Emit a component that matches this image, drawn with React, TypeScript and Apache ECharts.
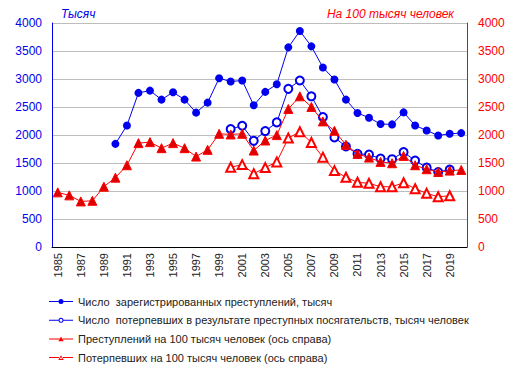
import React, { useEffect, useRef } from "react";
import * as echarts from "echarts";

const years: string[] = [];
for (let y = 1985; y <= 2020; y++) years.push(String(y));

// Число зарегистрированных преступлений, тысяч (1985–2020)
const crimes: (number | null)[] = [
  null, null, null, null, null,
  1842, 2171, 2752, 2793, 2632, 2763, 2632, 2399, 2578, 3014,
  2955, 2973, 2530, 2770, 2906, 3565, 3857, 3583, 3206, 2990,
  2632, 2393, 2309, 2196, 2189, 2404, 2171, 2081, 1991, 2022, 2034,
];

// Число потерпевших, тысяч человек
const victims: (number | null)[] = [
  null, null, null, null, null, null, null, null, null, null,
  null, null, null, null, null,
  2106, 2165, 1896, 2070, 2225, 2824, 2973, 2691, 2321, 1956,
  1794, 1663, 1650, 1579, 1568, 1694, 1543, 1417, 1340, 1381, null,
];

// Преступлений на 100 тысяч человек (ось справа)
const crimesRate: (number | null)[] = [
  976, 922, 814, 825, 1077, 1238, 1460, 1855, 1873, 1765,
  1855, 1765, 1615, 1735, 2022, 2010, 2022, 1722, 1902, 1998,
  2465, 2691, 2501, 2243, 2075, 1825, 1663, 1597, 1520, 1496,
  1627, 1460, 1389, 1340, 1364, 1376,
];

// Потерпевших на 100 тысяч человек (ось справа)
const victimsRate: (number | null)[] = [
  null, null, null, null, null, null, null, null, null, null,
  null, null, null, null, null,
  1424, 1471, 1310, 1418, 1520, 1945, 2058, 1866, 1604, 1364,
  1245, 1155, 1137, 1076, 1076, 1148, 1041, 958, 897, 915, null,
];

const seriesNames = [
  "Число  зарегистрированных преступлений, тысяч",
  "Число  потерпевших в результате преступных посягательств, тысяч человек",
  "Преступлений на 100 тысяч человек (ось справа)",
  "Потерпевших на 100 тысяч человек (ось справа)",
];

const FONT = 'Arial, "Liberation Sans", sans-serif';
const BLUE = "#0000EE";
const RED = "#FF0000";

// legend icons: line + small marker (24 x 6 box)
const ICON_DOT =
  "path://M0,2.5h9.6v1h-9.6z M14.4,2.5h9.6v1h-9.6z M9.5,3a2.5,2.5 0 1,0 5,0a2.5,2.5 0 1,0 -5,0z M0,0.5h0.01v0.01h-0.01z M0,5.5h0.01v0.01h-0.01z";
const ICON_RING =
  "path://M0,2.5h9.5v1h-9.5z M14.5,2.5h9.5v1h-9.5z M9.5,3a2.5,2.5 0 1,0 5,0a2.5,2.5 0 1,0 -5,0z M10.5,3a1.5,1.5 0 1,1 3,0a1.5,1.5 0 1,1 -3,0z M0,0.5h0.01v0.01h-0.01z M0,5.5h0.01v0.01h-0.01z";
const ICON_TRI =
  "path://M0,2.5h10.3v1h-10.3z M13.7,2.5h10.3v1h-10.3z M9.3,5.3L12,0.7L14.7,5.3z";
const ICON_TRI_EMPTY =
  "path://M0,2.5h10v1h-10z M14,2.5h10v1h-10z M9.3,5.3L12,0.7L14.7,5.3z M10.9,4.4L13.1,4.4L12,2.5z";

const legendItemStyle = (color: string) => ({
  color,
  borderWidth: 0,
  borderColor: "transparent",
});

export default function App() {
  const ref = useRef<HTMLDivElement>(null);
  useEffect(() => {
    if (!ref.current) return;
    const chart = echarts.init(ref.current, undefined, { renderer: "svg" });
    chart.setOption({
      animation: false,
      backgroundColor: "#fff",
      textStyle: { fontFamily: FONT },
      grid: { left: 52, right: 52, top: 23, bottom: 131, containLabel: false },
      graphic: [
        {
          type: "text",
          left: 61,
          top: 8,
          style: { text: "Тысяч", fill: BLUE, font: "italic 12px " + FONT },
        },
        {
          type: "text",
          right: 65,
          top: 8,
          style: { text: "На 100 тысяч человек", fill: RED, font: "italic 12px " + FONT },
        },
      ],
      legend: {
        orient: "vertical",
        left: 44,
        top: 291,
        itemWidth: 24,
        itemHeight: 6,
        itemGap: 7.7,
        itemStyle: { borderWidth: 0 },
        textStyle: { fontSize: 11, color: "#222", fontFamily: FONT },
        data: [
          { name: seriesNames[0], icon: ICON_DOT, itemStyle: legendItemStyle(BLUE) },
          { name: seriesNames[1], icon: ICON_RING, itemStyle: legendItemStyle(BLUE) },
          { name: seriesNames[2], icon: ICON_TRI, itemStyle: legendItemStyle(RED) },
          { name: seriesNames[3], icon: ICON_TRI_EMPTY, itemStyle: legendItemStyle(RED) },
        ],
      },
      xAxis: {
        type: "category",
        data: years,
        boundaryGap: true,
        axisLine: { lineStyle: { color: "#000", width: 1 } },
        axisTick: { show: false },
        axisLabel: {
          interval: 1,
          rotate: 90,
          fontSize: 11,
          color: "#222",
          fontFamily: FONT,
          margin: 6,
        },
      },
      yAxis: [
        {
          type: "value",
          min: 0,
          max: 4000,
          interval: 500,
          position: "left",
          axisLine: { show: true, lineStyle: { color: BLUE, width: 1 } },
          axisTick: { show: false },
          axisLabel: {
            color: BLUE,
            fontSize: 12,
            fontFamily: FONT,
            margin: 10,
            formatter: (v: number) => String(v),
          },
          splitLine: { lineStyle: { color: "#BDBDBD", width: 1 } },
        },
        {
          type: "value",
          min: 0,
          max: 4000,
          interval: 500,
          position: "right",
          axisLine: { show: true, lineStyle: { color: RED, width: 1 } },
          axisTick: { show: false },
          axisLabel: {
            color: RED,
            fontSize: 12,
            fontFamily: FONT,
            margin: 11,
            formatter: (v: number) => String(v),
          },
          splitLine: { show: false },
        },
      ],
      series: [
        {
          name: seriesNames[0],
          type: "line",
          yAxisIndex: 0,
          data: crimes,
          showAllSymbol: true,
          symbol: "circle",
          symbolSize: 8,
          itemStyle: { color: BLUE },
          lineStyle: { color: BLUE, width: 1 },
          z: 4,
        },
        {
          name: seriesNames[1],
          type: "line",
          yAxisIndex: 0,
          data: victims,
          showAllSymbol: true,
          symbol: "emptyCircle",
          symbolSize: 8,
          itemStyle: { color: BLUE, borderWidth: 1 },
          lineStyle: { color: BLUE, width: 1 },
          z: 3,
        },
        {
          name: seriesNames[2],
          type: "line",
          yAxisIndex: 1,
          data: crimesRate,
          showAllSymbol: true,
          symbol: "triangle",
          symbolSize: 9,
          itemStyle: { color: "#DD0000", borderColor: RED, borderWidth: 1 },
          lineStyle: { color: RED, width: 1 },
          z: 5,
        },
        {
          name: seriesNames[3],
          type: "line",
          yAxisIndex: 1,
          data: victimsRate,
          showAllSymbol: true,
          symbol: "emptyTriangle",
          symbolSize: 9,
          itemStyle: { color: RED, borderWidth: 1 },
          lineStyle: { color: RED, width: 1 },
          z: 2,
        },
      ],
    });
    return () => chart.dispose();
  }, []);
  return <div ref={ref} style={{ width: 519, height: 378, margin: -8 }} />;
}
